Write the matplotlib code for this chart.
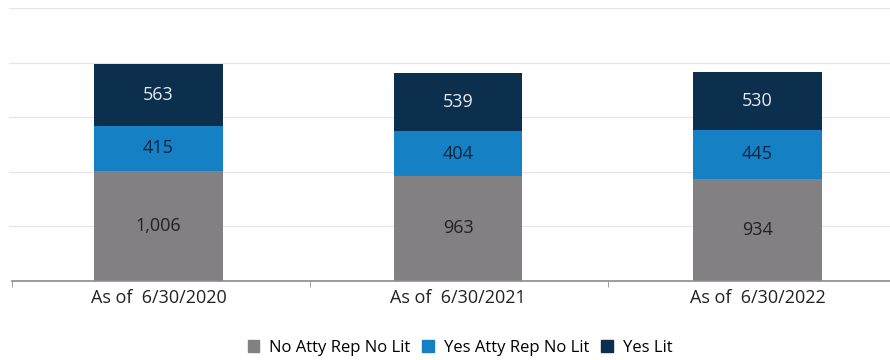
import matplotlib
matplotlib.use("Agg")
import matplotlib.pyplot as plt
from matplotlib.patches import Patch
import numpy as np

plt.rcParams['font.family'] = ['Open Sans', 'DejaVu Sans']

categories = ["As of  6/30/2020", "As of  6/30/2021", "As of  6/30/2022"]
series_names = ["No Atty Rep No Lit", "Yes Atty Rep No Lit", "Yes Lit"]
no_atty_rep_no_lit = [1006, 963, 934]
yes_atty_rep_no_lit = [415, 404, 445]
yes_lit = [563, 539, 530]

colors = ["#838083", "#1580c4", "#0b2f4c"]
label_colors = ["#222222", "#0b2440", "#e6eaf0"]

fig = plt.figure(figsize=(8.9, 3.6), dpi=100)
ax = fig.add_axes([8.75 / 890, (360 - 280.5) / 360, 898.5 / 890, (280.5 - 8) / 360])

x = np.arange(len(categories))
bottom = np.zeros(len(categories))
for vals, name, col, lcol in zip([no_atty_rep_no_lit, yes_atty_rep_no_lit, yes_lit],
                                 series_names, colors, label_colors):
    vals = np.array(vals, dtype=float)
    ax.bar(x, vals, width=0.43, bottom=bottom, color=col, zorder=2)
    for xi, b, v in zip(x, bottom, vals):
        ax.text(xi, b + v / 2, f"{int(v):,}", ha="center", va="center",
                fontsize=13, color=lcol, zorder=3)
    bottom += vals

ax.set_xlim(-0.5, 2.5)
ax.set_ylim(0, 2500)
ax.set_yticks(np.arange(0, 2501, 500))
ax.yaxis.grid(True, color="#e6e6e6", linewidth=1, zorder=0)
ax.tick_params(axis="y", left=False, labelleft=False)

ax.set_xticks(x)
ax.set_xticklabels(categories, fontsize=13, color="#222222")
ax.set_xticks([-0.49, 0.505, 1.5], minor=True)
ax.tick_params(axis="x", which="major", length=0, pad=6)
ax.tick_params(axis="x", which="minor", length=4, color="#8c8c8c", direction="out")

for s in ["top", "right", "left"]:
    ax.spines[s].set_visible(False)
ax.spines["bottom"].set_color("#8c8c8c")
ax.spines["bottom"].set_linewidth(1.2)
ax.spines["bottom"].set_bounds(-0.49, 2.5)

handles = [Patch(facecolor=c, edgecolor=c) for c in colors]
fig.legend(handles, series_names, loc="center", bbox_to_anchor=(460 / 890, 1 - 348 / 360),
           ncol=3, frameon=False, fontsize=12, handlelength=0.7, handleheight=0.7,
           handletextpad=0.6, columnspacing=0.7)

fig.savefig("out.png", dpi=100)
